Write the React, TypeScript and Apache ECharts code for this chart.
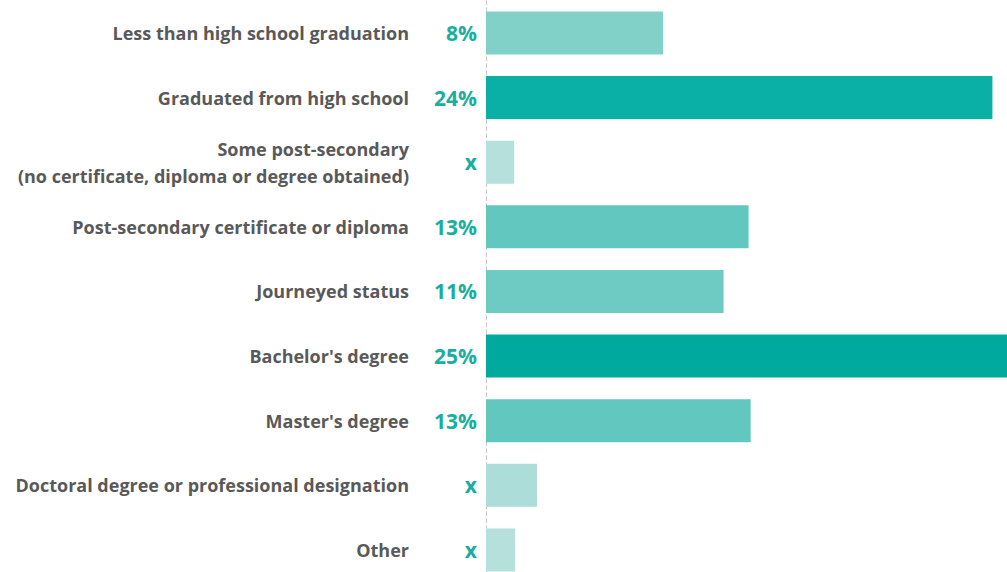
import React, { useEffect, useRef } from "react";
import * as echarts from "echarts";

const categories = [
  "Less than high school graduation",
  "Graduated from high school",
  "Some post-secondary\n(no certificate, diploma or degree obtained)",
  "Post-secondary certificate or diploma",
  "Journeyed status",
  "Bachelor's degree",
  "Master's degree",
  "Doctoral degree or professional designation",
  "Other",
];
const values = [8.5, 24.3, 1.35, 12.6, 11.4, 25.0, 12.7, 2.45, 1.4];
const valueLabels = ["8%", "24%", "x", "13%", "11%", "25%", "13%", "x", "x"];
const barColors = [
  "#82D1C9",
  "#0AAFA5",
  "#B5E0DB",
  "#62C8BF",
  "#6DCBC3",
  "#00A99D",
  "#62C8BF",
  "#ADDDD8",
  "#B5E0DB",
];

export default function App() {
  const ref = useRef<HTMLDivElement>(null);
  useEffect(() => {
    if (!ref.current) return;
    const chart = echarts.init(ref.current, null, { renderer: "svg" });
    chart.setOption({
      animation: false,
      grid: {
        left: 486,
        right: 0,
        top: 0.7,
        height: 581.5,
        containLabel: false,
        outerBoundsMode: "none",
      },
      xAxis: {
        type: "value",
        min: 0,
        max: 25,
        show: false,
      },
      yAxis: {
        type: "category",
        inverse: true,
        data: categories,
        axisTick: { show: false },
        axisLine: {
          show: true,
          lineStyle: { color: "#C8C8C8", type: [4, 3], width: 1 },
        },
        axisLabel: {
          margin: 77,
          color: "#595959",
          fontFamily: "'Open Sans', sans-serif",
          fontWeight: "bold",
          fontSize: 18,
          lineHeight: 27,
          align: "right",
        },
      },
      series: [
        {
          type: "bar",
          barWidth: 43,
          data: values.map((v, i) => ({
            value: v,
            itemStyle: { color: barColors[i] },
          })),
          label: {
            show: true,
            position: "left",
            distance: 9,
            formatter: (p: any) => valueLabels[p.dataIndex],
            color: "#1AAE9F",
            fontFamily: "'Open Sans', sans-serif",
            fontWeight: "bold",
            fontSize: 21,
          },
        },
      ],
    });
    return () => chart.dispose();
  }, []);
  return (
    <div
      ref={ref}
      style={{ position: "absolute", left: 0, top: 0, width: 1007, height: 572 }}
    />
  );
}
